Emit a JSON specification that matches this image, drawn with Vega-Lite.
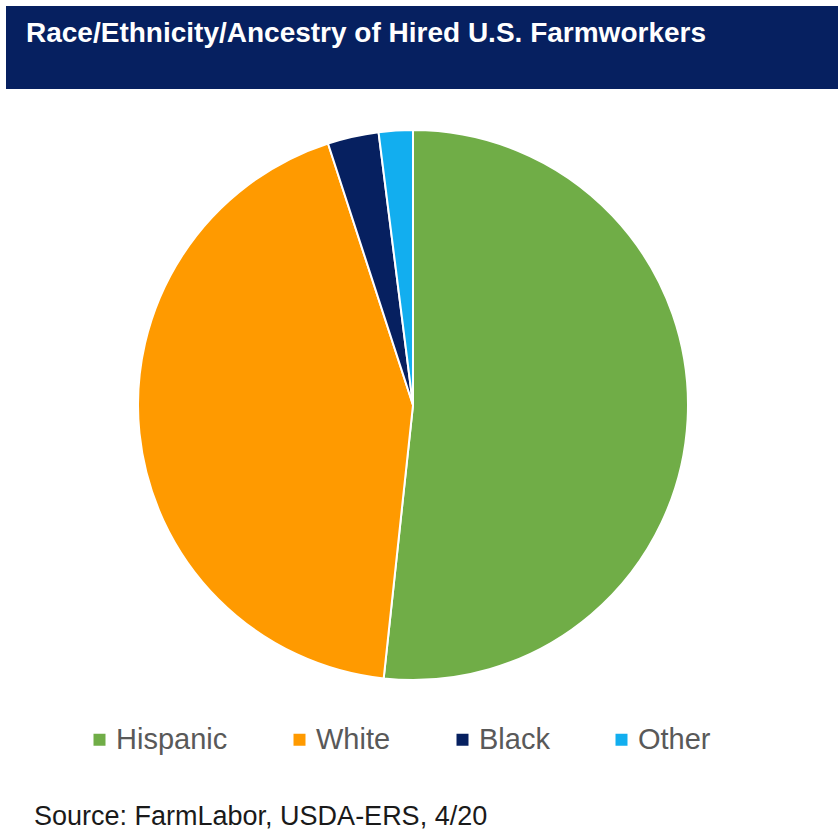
{
  "$schema": "https://vega.github.io/schema/vega-lite/v6.json",
  "background": "white",
  "padding": {"left": 6, "top": 6, "right": 0, "bottom": 0},
  "spacing": 0,
  "config": {"view": {"stroke": null}, "concat": {"spacing": 0}},
  "vconcat": [
    {
      "width": 832,
      "height": 83,
      "view": {"fill": "#062060", "stroke": null},
      "data": {"values": [{"heading": "Race/Ethnicity/Ancestry of Hired U.S. Farmworkers"}]},
      "mark": {
        "type": "text",
        "align": "left",
        "baseline": "alphabetic",
        "x": 20,
        "y": 36,
        "color": "white",
        "font": "Liberation Sans",
        "fontSize": 28,
        "fontWeight": "bold"
      },
      "encoding": {"text": {"field": "heading", "type": "nominal"}}
    },
    {
      "width": 814,
      "height": 632,
      "data": {
        "values": [
          {"group": "Hispanic", "share": 51.7, "rank": 1},
          {"group": "White", "share": 43.3, "rank": 2},
          {"group": "Black", "share": 3.0, "rank": 3},
          {"group": "Other", "share": 2.0, "rank": 4}
        ]
      },
      "mark": {"type": "arc", "outerRadius": 275, "stroke": "white", "strokeWidth": 2},
      "encoding": {
        "theta": {"field": "share", "type": "quantitative", "stack": true},
        "order": {"field": "rank", "type": "quantitative"},
        "color": {
          "field": "group",
          "type": "nominal",
          "scale": {
            "domain": ["Hispanic", "White", "Black", "Other"],
            "range": ["#70ad47", "#ff9a00", "#062060", "#12aeef"]
          },
          "legend": {
            "orient": "none",
            "legendX": 79,
            "legendY": 719,
            "direction": "horizontal",
            "title": null,
            "symbolType": "square",
            "symbolSize": 144,
            "symbolStrokeWidth": 0,
            "symbolOpacity": 1,
            "labelFont": "Liberation Sans",
            "labelFontSize": 29,
            "labelColor": "#595959",
            "labelOffset": 2,
            "labelLimit": 400,
            "columnPadding": 57
          }
        }
      },
      "title": {
        "text": "Source: FarmLabor, USDA-ERS, 4/20",
        "orient": "bottom",
        "anchor": "start",
        "frame": "group",
        "offset": 104,
        "baseline": "alphabetic",
        "dx": 28,
        "color": "#1a1a1a",
        "font": "Liberation Sans",
        "fontSize": 27,
        "fontWeight": "normal"
      }
    }
  ]
}
